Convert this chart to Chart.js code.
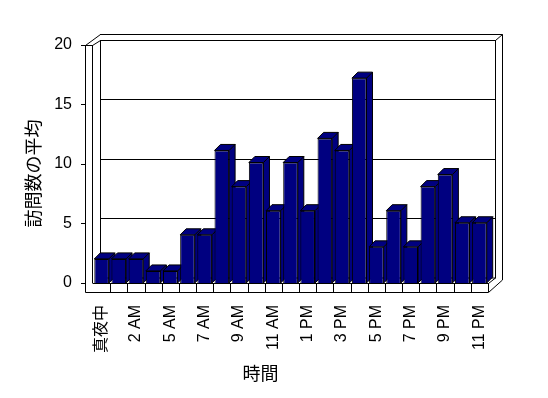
<!DOCTYPE html>
<html>
<head>
<meta charset="utf-8">
<script src="https://cdn.jsdelivr.net/npm/chart.js@4.4.0/dist/chart.umd.min.js"></script>
<style>
  html, body { margin: 0; padding: 0; background: #fff; }
  #wrap { width: 548px; height: 398px; }
</style>
</head>
<body>
<div id="wrap"><canvas id="chart" width="548" height="398"></canvas></div>
<script>
const hours = ["真夜中", "1 AM", "2 AM", "3 AM", "5 AM", "6 AM", "7 AM", "8 AM", "9 AM", "10 AM", "11 AM", "12 PM",
  "1 PM", "2 PM", "3 PM", "4 PM", "5 PM", "6 PM", "7 PM", "8 PM", "9 PM", "10 PM", "11 PM"];
const visits = [2, 2, 2, 1, 1, 4, 4, 11, 8, 10, 6, 10, 6, 12, 11, 17, 3, 6, 3, 8, 9, 5, 5];
const yTicks = [0, 5, 10, 15, 20];
const yTitle = "訪問数の平均";
const xTitle = "時間";

const NAVY = "#000080";
const FONT = "'Liberation Sans', 'Noto Sans CJK JP', sans-serif";
const JP_FONT = "'Noto Sans CJK JP', sans-serif";

// back wall mapping (slightly different perspective from the front)
function backY(v) { return 277.8 - v * 11.9; }

function line(ctx, x1, y1, x2, y2) {
  ctx.beginPath();
  ctx.moveTo(x1, y1);
  ctx.lineTo(x2, y2);
  ctx.stroke();
}

const box3d = {
  id: "box3d",
  beforeDatasetsDraw(chart) {
    const ctx = chart.ctx;
    const area = chart.chartArea;
    const L = area.left, R = area.right, B = area.bottom;
    const bl = L + 7, br = R + 7, bt = 40.5, bb = 278;
    ctx.save();
    ctx.strokeStyle = "#000";
    ctx.lineWidth = 1;

    // back wall
    ctx.fillStyle = "#fff";
    ctx.fillRect(bl, bt, br - bl, bb - bt);
    ctx.strokeRect(bl + 0.5, bt, br - bl, bb - bt);
    yTicks.forEach((v) => {
      if (v === 0) return;
      const y = Math.round(backY(v)) + 0.5;
      line(ctx, bl, y, br, y);
    });
    // back wall thickness
    line(ctx, bl, 34.5, 502.5, 34.5);
    line(ctx, 502.5, 34.5, 502.5, 280);
    line(ctx, br + 0.5, bt, 502.5, 34.5);

    // left wall
    line(ctx, 85.5, 45, 85.5, 292.5);
    line(ctx, L - 0.5, 45, L - 0.5, B);
    line(ctx, 85.5, 45.5, L - 0.5, 45.5);
    line(ctx, 85.5, 45.5, bl + 0.5, 34.5);
    line(ctx, L - 0.5, 45.5, bl + 0.5, bt);

    // floor
    line(ctx, L - 0.5, B + 0.5, R, B + 0.5);
    line(ctx, 85.5, 292.5, R, 292.5);
    line(ctx, R + 0.5, B, R + 0.5, 292.5);
    line(ctx, R + 0.5, B + 0.5, br + 0.5, bb);
    line(ctx, R + 0.5, 292.5, 502.5, 280);

    // category tick marks on the floor front
    const n = hours.length;
    const w = (R - L) / n;
    for (let k = 1; k < n; k++) {
      const x = Math.round(L + k * w) + 0.5;
      line(ctx, x, B, x, 292.5);
    }

    // value ticks on the left wall
    const ys = chart.scales.yLabels;
    yTicks.forEach((v) => {
      const y = Math.round(ys.getPixelForValue(v)) + 0.5;
      line(ctx, 81, y, 85.5, y);
    });

    // bar sides and tops
    const meta = chart.getDatasetMeta(0);
    const dx = 6, dy = 6;
    ctx.fillStyle = NAVY;
    meta.data.forEach((bar) => {
      const r = bar.x + bar.width / 2;
      ctx.beginPath();
      ctx.moveTo(r, bar.y);
      ctx.lineTo(r + dx, bar.y - dy);
      ctx.lineTo(r + dx, bar.base - dy);
      ctx.lineTo(r, bar.base);
      ctx.closePath();
      ctx.fill();
      ctx.stroke();
    });
    meta.data.forEach((bar) => {
      const l = bar.x - bar.width / 2;
      const r = bar.x + bar.width / 2;
      ctx.beginPath();
      ctx.moveTo(l, bar.y);
      ctx.lineTo(l + dx, bar.y - dy);
      ctx.lineTo(r + dx, bar.y - dy);
      ctx.lineTo(r, bar.y);
      ctx.closePath();
      ctx.fill();
      ctx.stroke();
    });
    ctx.restore();
  },
  afterDraw(chart) {
    const ctx = chart.ctx;
    ctx.save();
    ctx.fillStyle = "#000";
    ctx.font = "18px " + JP_FONT;
    ctx.textAlign = "center";
    ctx.textBaseline = "middle";
    ctx.fillText(xTitle, 260.5, 373.5);
    ctx.translate(33.5, 173.5);
    ctx.rotate(-Math.PI / 2);
    ctx.fillText(yTitle, 0, 0);
    ctx.restore();
  }
};

new Chart(document.getElementById("chart"), {
  type: "bar",
  data: {
    labels: hours,
    datasets: [{
      data: visits,
      backgroundColor: NAVY,
      borderColor: "#000",
      borderWidth: 1,
      barPercentage: 0.85,
      categoryPercentage: 1,
      yAxisID: "y"
    }]
  },
  options: {
    responsive: false,
    animation: false,
    layout: { padding: { top: 42, right: 60, left: 0, bottom: 0 } },
    plugins: { legend: { display: false }, tooltip: { enabled: false } },
    scales: {
      x: {
        grid: { display: false, drawTicks: false },
        border: { display: false },
        afterFit: (s) => { s.height = 115; },
        ticks: {
          autoSkip: false,
          minRotation: 90,
          maxRotation: 90,
          padding: 22,
          color: "#000",
          font: { family: FONT, size: 16 },
          callback: function (v, i) { return i % 2 === 0 ? this.getLabelForValue(v) : ""; }
        }
      },
      y: {
        display: false,
        min: 0,
        max: 20
      },
      yLabels: {
        position: "left",
        min: 0,
        max: 20.25,
        grid: { display: false, drawTicks: false },
        border: { display: false },
        afterBuildTicks: (s) => { s.ticks = yTicks.map((v) => ({ value: v })); },
        afterFit: (s) => { s.width = 93; },
        ticks: {
          padding: 21,
          color: "#000",
          font: { family: FONT, size: 16 }
        }
      }
    }
  },
  plugins: [box3d]
});
</script>
</body>
</html>
